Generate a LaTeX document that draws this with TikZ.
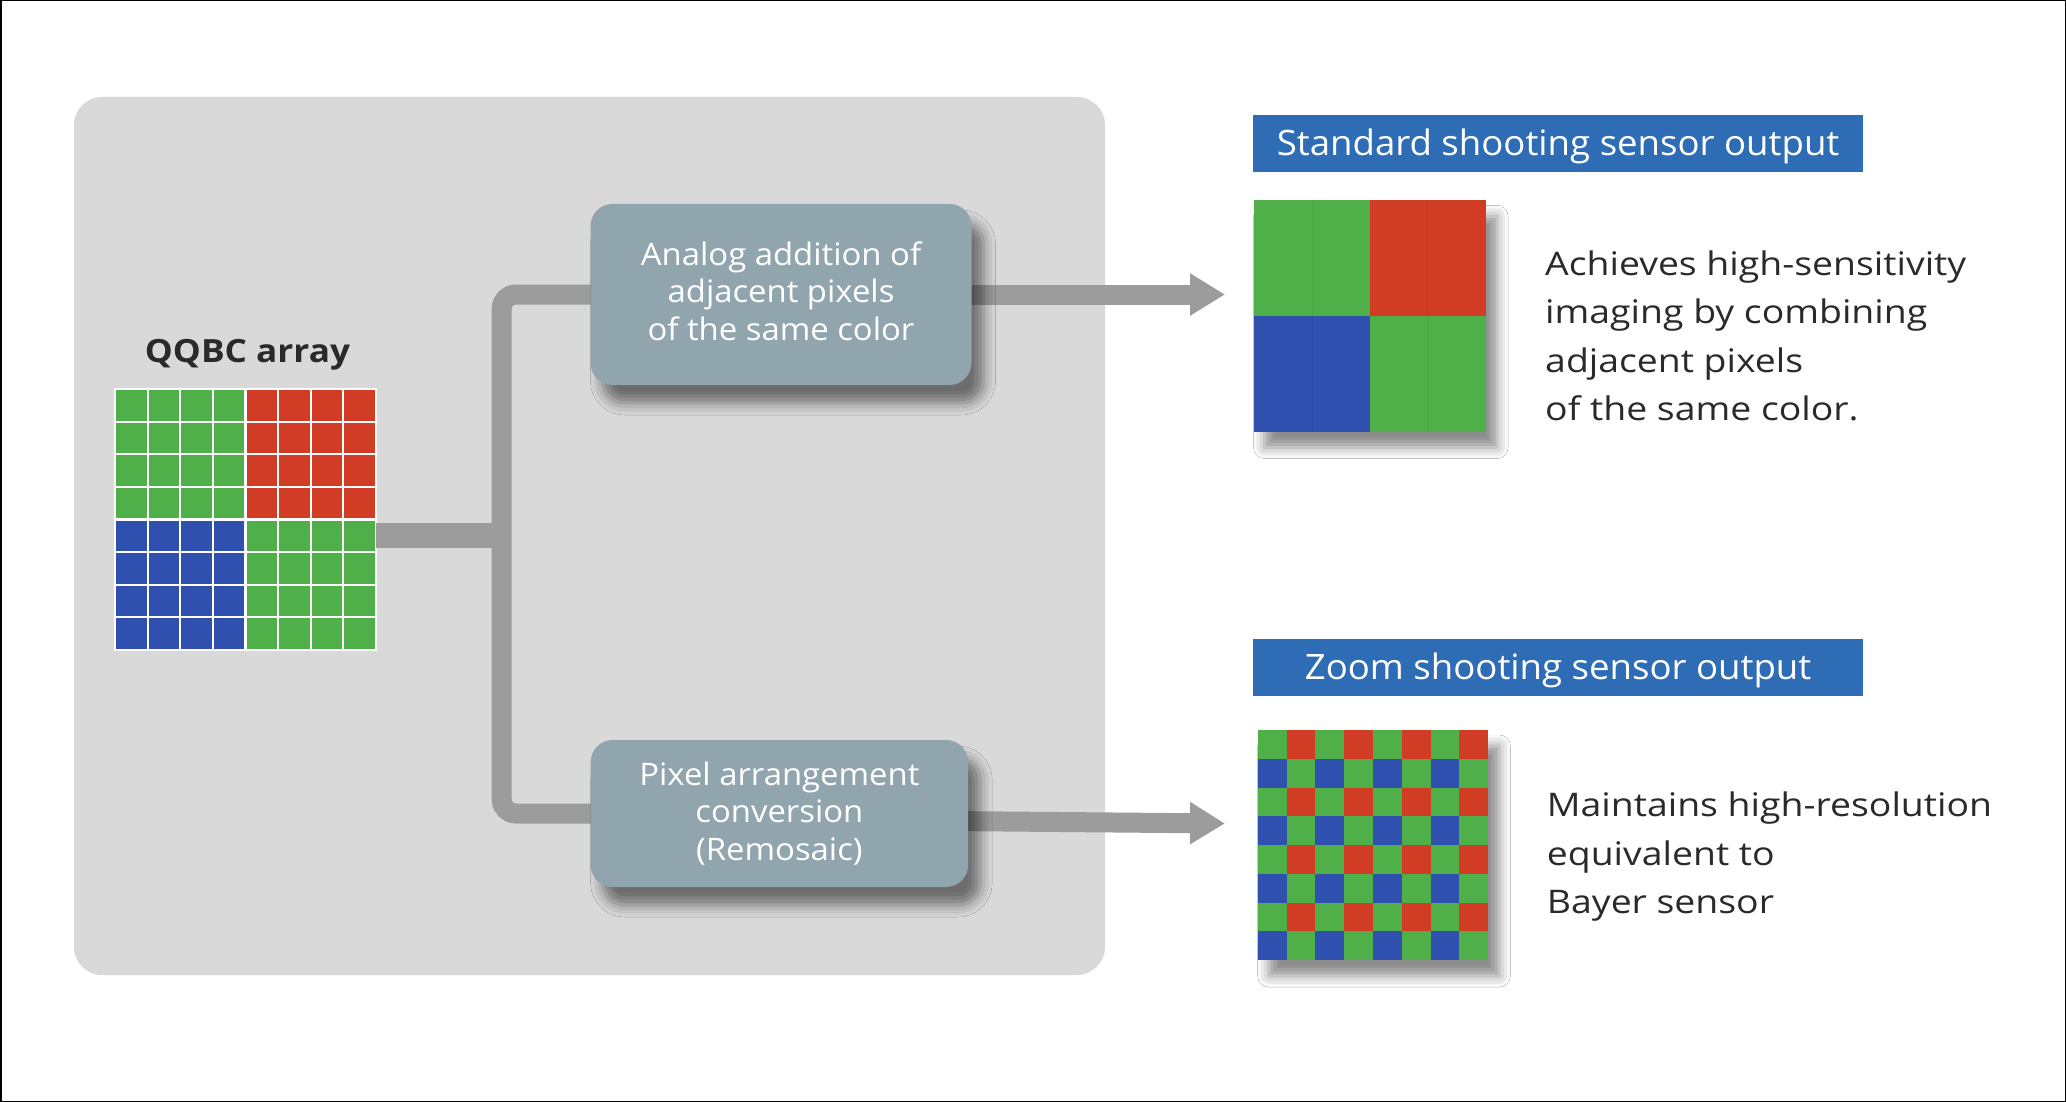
\documentclass[tikz,border=0pt]{standalone}
\usepackage{fontspec}
\setmainfont{Open Sans}
\newfontfamily\boxfont[FakeStretch=1.06]{Open Sans}
\newfontfamily\labfont[FakeStretch=1.045]{Open Sans}
\newfontfamily\descfont[FakeStretch=1.15]{Open Sans}
\newfontfamily\qqfont[FakeStretch=1.1]{Open Sans}
\usetikzlibrary{arrows.meta,shadows.blur}
\definecolor{panelgray}{HTML}{D9D9D9}
\definecolor{boxgray}{HTML}{91A5AF}
\definecolor{conngray}{HTML}{9C9C9C}
\definecolor{labelblue}{HTML}{2E6DB6}
\definecolor{sgreen}{HTML}{4FB04A}
\definecolor{sred}{HTML}{D13C25}
\definecolor{sblue}{HTML}{3050B0}
\definecolor{textdark}{HTML}{2A2A2A}
\begin{document}
\begin{tikzpicture}[x=1pt,y=-1pt,
  panel/.style={fill=panelgray, rounded corners=28pt, inner sep=0pt},
  boxframe/.style={inner sep=0pt, outer sep=0pt},
  boxfill/.style={fill=boxgray, rounded corners=22pt,
    blur shadow={shadow xshift=12pt, shadow yshift=-18pt, shadow blur radius=12pt, shadow opacity=50}},
  boxtext/.style={inner sep=0pt, text=white, align=center, font=\boxfont\fontsize{31}{37.5}\selectfont},
  outlabel/.style={fill=labelblue, inner sep=0pt, text=white, minimum width=609.6pt, minimum height=57.3pt,
    text height=30pt, text depth=7pt, font=\labfont\fontsize{35}{40}\selectfont},
  sensor/.style={inner sep=0pt, outer sep=0pt,
    blur shadow={shadow xshift=11pt, shadow yshift=-16pt, shadow blur radius=11pt, shadow opacity=45}},
  desc/.style={inner sep=0pt, align=left, text=textdark, anchor=base west,
    font=\descfont\fontsize{32.5}{48.5}\selectfont},
  conn/.style={draw=conngray, line width=20pt},
  arr/.style={conn, -{Triangle[length=35pt,width=40pt]}}
]
\useasboundingbox (0,0) rectangle (2066,1102);
\fill[white] (0,0) rectangle (2066,1102);
\draw[black, line width=1.5pt] (0.75,0.75) rectangle (2065.25,1101.25);
\node[panel, minimum width=1031pt, minimum height=878pt] (panel) at (589.5,536) {};

% QQBC array
\node[inner sep=0pt, anchor=base, text=textdark, font=\qqfont\bfseries\fontsize{32}{36}\selectfont] (qqtitle) at (247.5,362) {QQBC array};
\node[inner sep=0pt, minimum width=261pt, minimum height=261pt] (qq) at (245.5,519.5) {};
\def\cs{32.625}
\foreach \i in {0,...,3}{\foreach \j in {0,...,3}{
  \fill[sgreen] (115+\i*\cs,389+\j*\cs) rectangle ++(\cs,\cs);
  \fill[sred]   (115+\i*\cs+4*\cs,389+\j*\cs) rectangle ++(\cs,\cs);
  \fill[sblue]  (115+\i*\cs,389+\j*\cs+4*\cs) rectangle ++(\cs,\cs);
  \fill[sgreen] (115+\i*\cs+4*\cs,389+\j*\cs+4*\cs) rectangle ++(\cs,\cs);
}}
\foreach \k in {1,...,7}{
  \draw[white, line width=2.2pt] (115+\k*\cs,389) -- (115+\k*\cs,650);
  \draw[white, line width=2.2pt] (115,389+\k*\cs) -- (376,389+\k*\cs);
}
\draw[white, line width=1.5pt] (qq.north west) rectangle (qq.south east);

% process box frames (geometry)
\node[boxframe, minimum width=381pt, minimum height=181pt] (box1) at (781,294.5) {};
\node[boxframe, minimum width=377.5pt, minimum height=147pt] (box2) at (779.4,813.5) {};

% connectors
\coordinate (j) at (501.7,535.8);
\coordinate (t1) at (1225,294.5);
\coordinate (t2) at (1225,823.5);
\draw[draw=conngray, line width=25pt] (qq.east |- j) -- ([xshift=-2pt]j);
\draw[conn, rounded corners=14pt] ([xshift=20pt]box1.west) -- (box1.west -| j) -- (box2.west -| j) -- ([xshift=20pt]box2.west);
\draw[arr] ([xshift=-20pt]box1.east) -- (t1);
\draw[arr] ([xshift=-20pt,yshift=-7.5pt]box2.east) -- (t2);

% process boxes (fill + shadow over the connector ends) and texts
\path[boxfill] (box1.north west) rectangle (box1.south east);
\path[boxfill] (box2.north west) rectangle (box2.south east);
\node[boxtext] (box1txt) at ([yshift=3.5pt]box1.center) {Analog addition of\\adjacent pixels\\of the same color};
\node[boxtext] (box2txt) at (box2.center) {Pixel arrangement\\conversion\\(Remosaic)};

% output labels
\node[outlabel] (lab1) at (1558.1,143.6) {Standard shooting sensor output};
\node[outlabel] (lab2) at (1558.1,667.7) {Zoom shooting sensor output};

% standard output square
\node[sensor, fill=sgreen, minimum width=232.5pt, minimum height=231.3pt] (out1) at (1369.8,315.9) {};
\fill[sred]  (out1.north) rectangle (out1.east);
\fill[sblue] (out1.west) rectangle (out1.south);
\draw[black, opacity=0.05, line width=1.5pt] (1312.5,200.3) -- (1312.5,431.5);
\draw[black, opacity=0.05, line width=1.5pt] (1427.7,200.3) -- (1427.7,431.5);

% bayer output square
\node[sensor, fill=sgreen, minimum width=230.6pt, minimum height=230pt] (out2) at (1373,845) {};
\def\bs{28.825}
\def\bh{28.75}
\foreach \i in {0,2,4,6}{\foreach \j in {0,2,4,6}{
  \fill[sred]  (1257.7+\i*\bs+\bs,730+\j*\bh) rectangle ++(\bs,\bh);
  \fill[sblue] (1257.7+\i*\bs,730+\j*\bh+\bh) rectangle ++(\bs,\bh);
}}

% descriptions (base anchor = baseline of the last line)
\node[desc] (d1) at (1545,420.5) {Achieves high-sensitivity\\imaging by combining\\adjacent pixels\\of the same color.};
\node[desc] (d2) at (1546.7,913.7) {Maintains high-resolution\\equivalent to\\Bayer sensor};
\end{tikzpicture}
\end{document}
